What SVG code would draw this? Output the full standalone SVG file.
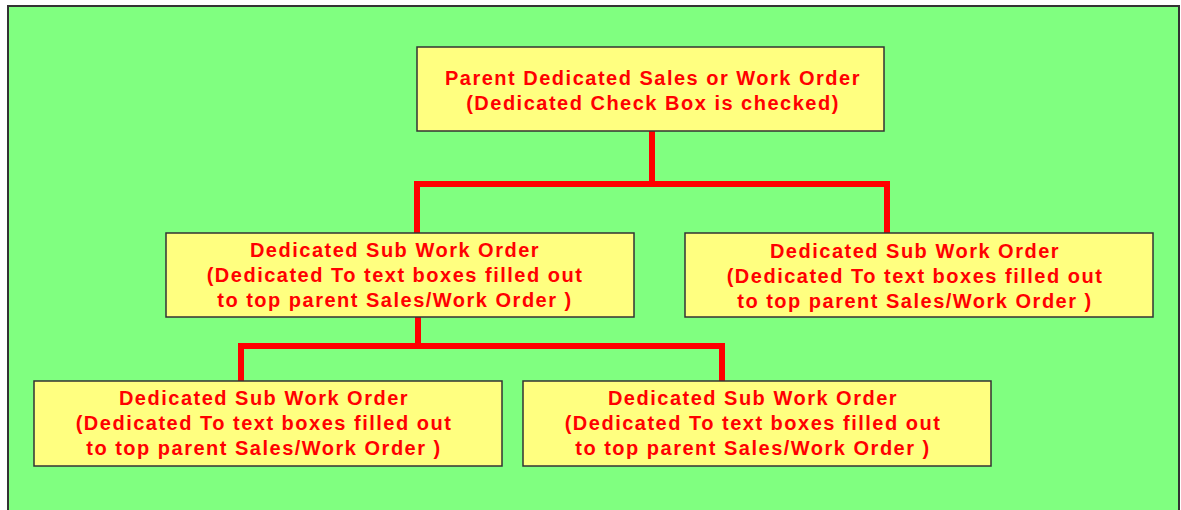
<svg xmlns="http://www.w3.org/2000/svg" width="1181" height="510" viewBox="0 0 1181 510">
<style>
.box{fill:#FFFF80;stroke:#333333;stroke-width:1.5}
.t{font-family:"Liberation Sans",Arial,sans-serif;font-weight:bold;font-size:20px;fill:#FF0000;text-anchor:middle;letter-spacing:1.5px}
.c{stroke:#FF0000;stroke-width:6;fill:none;stroke-linecap:butt}
</style>
<rect x="0" y="0" width="1181" height="510" fill="#FFFFFF"/>
<rect x="8" y="6" width="1171" height="510" fill="#80FF80" stroke="#333333" stroke-width="2"/>
<g id="connectors">
<path class="c" d="M652 131 V184 M414 184 H890 M417 184 V233 M887 184 V233"/>
<path class="c" d="M418 317 V346 M238 346 H725 M241 346 V381 M722 346 V381"/>
</g>
<g id="parent">
<rect class="box" x="417" y="47" width="467" height="84"/>
<text class="t" x="653" y="85">Parent Dedicated Sales or Work Order</text>
<text class="t" x="653" y="110">(Dedicated Check Box is checked)</text>
</g>
<g id="sub1">
<rect class="box" x="166" y="233" width="468" height="84"/>
<text class="t" x="395" y="257">Dedicated Sub Work Order</text>
<text class="t" x="395" y="282">(Dedicated To text boxes filled out</text>
<text class="t" x="395" y="307">to top parent Sales/Work Order )</text>
</g>
<g id="sub2">
<rect class="box" x="685" y="233" width="468" height="84"/>
<text class="t" x="915" y="258">Dedicated Sub Work Order</text>
<text class="t" x="915" y="283">(Dedicated To text boxes filled out</text>
<text class="t" x="915" y="308">to top parent Sales/Work Order )</text>
</g>
<g id="sub3">
<rect class="box" x="34" y="381" width="468" height="85"/>
<text class="t" x="264" y="405">Dedicated Sub Work Order</text>
<text class="t" x="264" y="430">(Dedicated To text boxes filled out</text>
<text class="t" x="264" y="455">to top parent Sales/Work Order )</text>
</g>
<g id="sub4">
<rect class="box" x="523" y="381" width="468" height="85"/>
<text class="t" x="753" y="405">Dedicated Sub Work Order</text>
<text class="t" x="753" y="430">(Dedicated To text boxes filled out</text>
<text class="t" x="753" y="455">to top parent Sales/Work Order )</text>
</g>
</svg>
